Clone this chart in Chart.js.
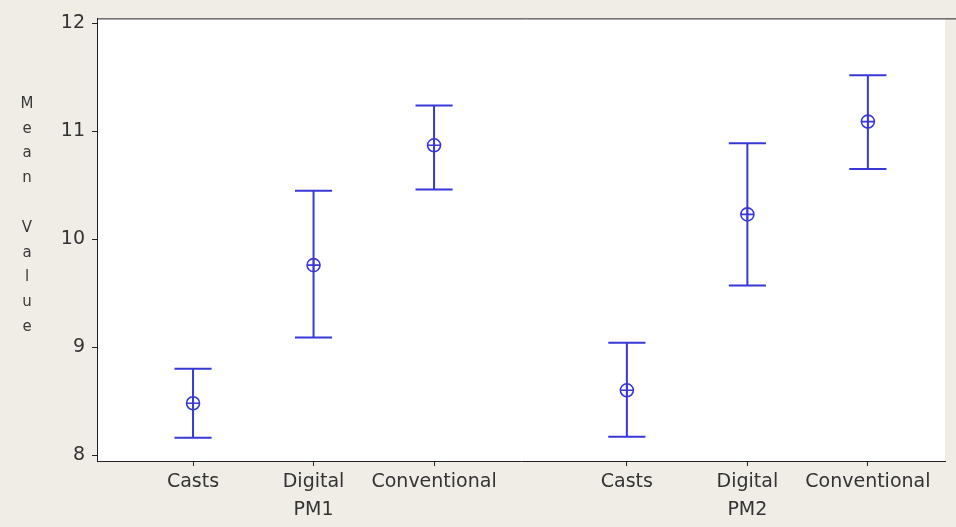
<!DOCTYPE html>
<html>
<head>
<meta charset="utf-8">
<script src="https://cdn.jsdelivr.net/npm/chart.js@4/dist/chart.umd.min.js"></script>
<style>
  html, body { margin: 0; padding: 0; background: #efede6; }
  #wrap { width: 956px; height: 527px; position: relative; }
</style>
</head>
<body>
<div id="wrap"><canvas id="c"></canvas></div>
<script>
// ---- data ----
const categories = ['Casts', 'Digital', 'Conventional', 'Casts', 'Digital', 'Conventional'];
const groupOf = [0, 0, 0, 1, 1, 1];
const groups = ['PM1', 'PM2'];
const means = [8.48, 9.76, 10.87, 8.60, 10.23, 11.09];
const upper = [8.80, 10.45, 11.24, 9.04, 10.89, 11.52];
const lower = [8.16, 9.09, 10.46, 8.17, 9.57, 10.65];
const yTicks = [8, 9, 10, 11, 12];
const yTitle = 'Mean Value';

// ---- layout helpers ----
const GROUP_GAP = 0.6;
const CAP = 0.154;
const xOf = i => 1 + i + groupOf[i] * GROUP_GAP;
const xs = categories.map((c, i) => xOf(i));
const groupCenters = groups.map((g, gi) => {
  const idx = categories.map((c, i) => i).filter(i => groupOf[i] === gi);
  return idx.reduce((s, i) => s + xOf(i), 0) / idx.length;
});
const X_MIN = 0.203, X_MAX = 7.24;
const Y_MIN = 7.945, Y_MAX = 12.046;

const BLUE = '#3838d8';
const AXIS = '#222222';
const TXT = '#333333';

const errData = [];
xs.forEach((x, i) => {
  errData.push({x: x, y: lower[i]}, {x: x, y: upper[i]}, {x: x, y: null});
  errData.push({x: x - CAP, y: upper[i]}, {x: x + CAP, y: upper[i]}, {x: x, y: null});
  errData.push({x: x - CAP, y: lower[i]}, {x: x + CAP, y: lower[i]}, {x: x, y: null});
});
const meanData = xs.map((x, i) => ({x: x, y: means[i]}));

const bgPlugin = {
  id: 'bg',
  beforeDraw(chart) {
    const {ctx, chartArea: a} = chart;
    ctx.save();
    ctx.fillStyle = '#ffffff';
    ctx.fillRect(a.left, a.top, a.right - a.left, a.bottom - a.top);
    ctx.restore();
  },
  afterDraw(chart) {
    const {ctx, chartArea: a} = chart;
    ctx.save();
    ctx.strokeStyle = AXIS;
    ctx.lineWidth = 1;
    ctx.beginPath();
    ctx.moveTo(a.left, a.top + 0.5);
    ctx.lineTo(chart.width, a.top + 0.5);
    ctx.stroke();
    // stacked y-axis title
    ctx.fillStyle = '#3a3a3a';
    ctx.font = '15px "DejaVu Sans"';
    ctx.textAlign = 'center';
    ctx.textBaseline = 'middle';
    const chars = yTitle.split('');
    const step = 24.8;
    const total = (chars.length - 1) * step;
    const yMid = chart.scales.y.getPixelForValue(10.22);
    chars.forEach((ch, k) => {
      if (ch !== ' ') ctx.fillText(ch, 27, yMid - total / 2 + k * step);
    });
    ctx.restore();
  }
};

new Chart(document.getElementById('c'), {
  type: 'scatter',
  data: {
    datasets: [
      {
        data: errData, showLine: true, spanGaps: false,
        borderColor: BLUE, borderWidth: 2, pointRadius: 0, pointHoverRadius: 0
      },
      {
        data: meanData, pointStyle: 'circle', pointRadius: 6.5,
        borderColor: BLUE, backgroundColor: 'rgba(0,0,0,0)', borderWidth: 1.6
      },
      {
        data: meanData, pointStyle: 'cross', pointRadius: 6.5,
        borderColor: BLUE, borderWidth: 1.6
      }
    ]
  },
  options: {
    responsive: true,
    maintainAspectRatio: false,
    animation: false,
    events: [],
    layout: { padding: { left: 0, right: 11, top: 13, bottom: 0 } },
    plugins: { legend: { display: false }, tooltip: { enabled: false } },
    scales: {
      x: {
        type: 'linear', position: 'bottom', min: X_MIN, max: X_MAX, weight: 0,
        afterBuildTicks: s => { s.ticks = xs.map(v => ({value: v})); },
        afterFit: s => { s.height = 30; },
        grid: { drawOnChartArea: false, drawTicks: true, tickLength: 5, color: AXIS, tickColor: AXIS },
        border: { display: true, color: AXIS, width: 1 },
        ticks: {
          autoSkip: false, maxRotation: 0, padding: 5, color: TXT,
          font: { family: 'DejaVu Sans', size: 19 },
          callback: (v, idx) => categories[idx]
        }
      },
      x2: {
        type: 'linear', position: 'bottom', min: X_MIN, max: X_MAX, weight: 1,
        afterBuildTicks: s => { s.ticks = groupCenters.map(v => ({value: v})); },
        afterFit: s => { s.height = 36; },
        grid: { display: false, drawTicks: false, tickLength: 0 },
        border: { display: false },
        ticks: {
          autoSkip: false, maxRotation: 0, padding: 8, color: TXT,
          font: { family: 'DejaVu Sans', size: 19 },
          callback: (v, idx) => groups[idx]
        }
      },
      y: {
        type: 'linear', position: 'left', min: Y_MIN, max: Y_MAX,
        afterBuildTicks: s => { s.ticks = yTicks.map(v => ({value: v})); },
        afterFit: s => { s.width = 97; },
        grid: { drawOnChartArea: false, drawTicks: true, tickLength: 5, color: AXIS, tickColor: AXIS },
        border: { display: true, color: AXIS, width: 1 },
        ticks: {
          padding: 7, color: TXT,
          font: { family: 'DejaVu Sans', size: 19 },
          callback: v => String(v)
        }
      }
    }
  },
  plugins: [bgPlugin]
});
</script>
</body>
</html>
